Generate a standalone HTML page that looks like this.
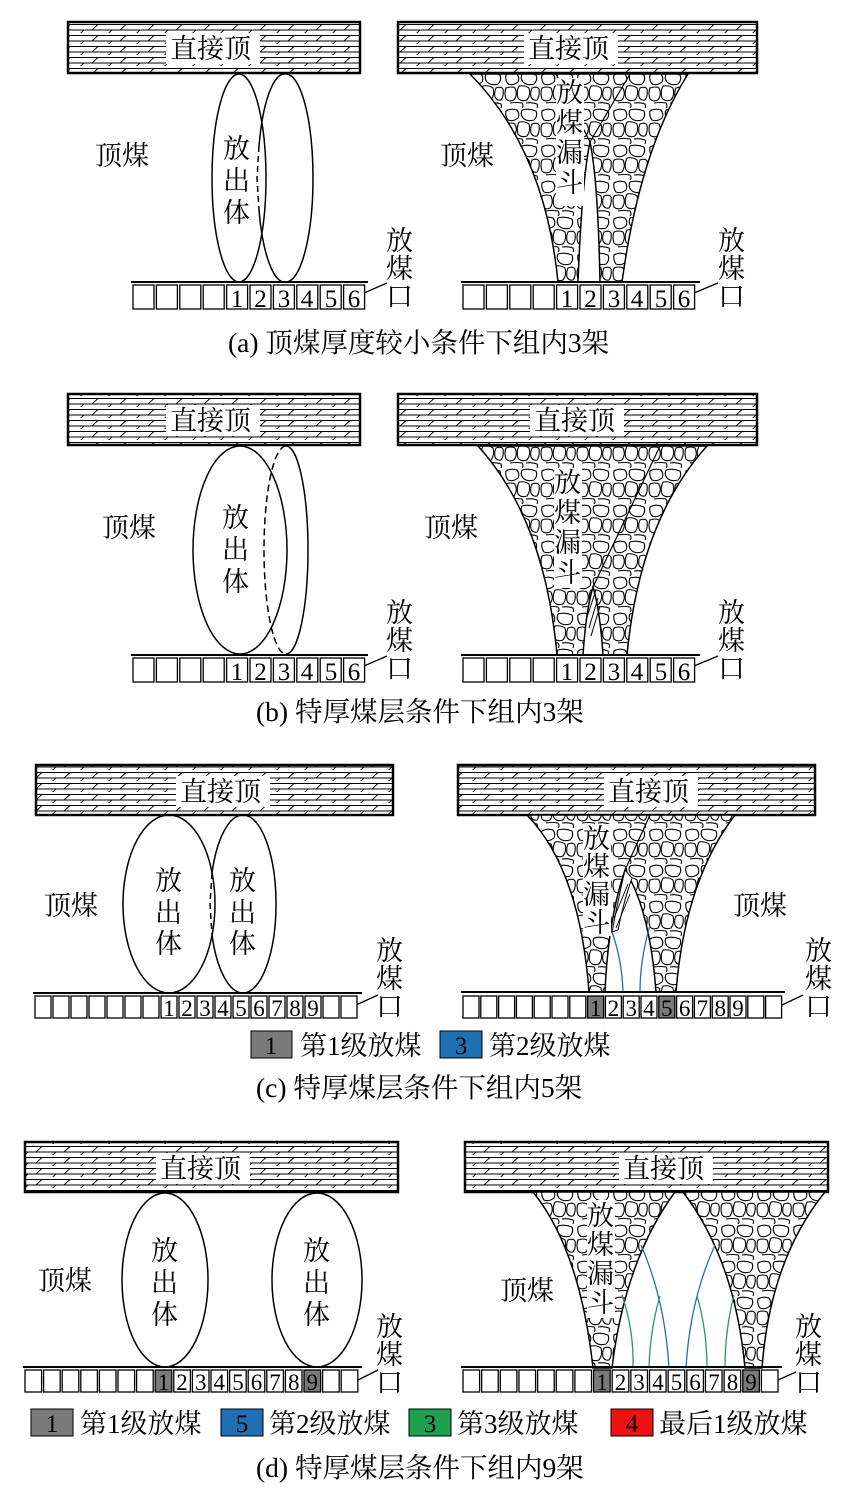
<!DOCTYPE html>
<html><head><meta charset="utf-8"><style>
html,body{margin:0;padding:0;background:#fff;}
svg{display:block;}
text{font-family:"Liberation Serif","Noto Serif CJK SC",serif;fill:#000;}
.l{font-size:27px;}
.c{font-size:27.5px;}
.n{font-size:25px;text-anchor:middle;}
.m{font-size:23px;text-anchor:middle;}
.g{font-size:27px;}
</style></head><body>
<svg width="864" height="1507" viewBox="0 0 864 1507" xmlns="http://www.w3.org/2000/svg">
<defs>
<pattern id="h" width="56" height="11" patternUnits="userSpaceOnUse">
<rect width="56" height="11" fill="#fff"/>
<path d="M0 2.5H56M0 8H56" stroke="#000" stroke-width="1"/>
<path d="M8 8L14 2.5M36 8L42 2.5M22 13.5L28 8M50 13.5L56 8" stroke="#000" stroke-width="0.9"/>
</pattern>
<pattern id="r" width="36" height="36" patternUnits="userSpaceOnUse">
<rect width="36" height="36" fill="#fff"/>
<g fill="#fff" stroke="#000" stroke-width="1.1" stroke-linejoin="round">
<path d="M2 3Q7 0 13 2Q16 6 14 10Q9 14 4 12Q1 8 2 3Z"/>
<path d="M18 2Q25 0 32 3Q34 8 30 12Q23 14 19 10Q16 6 18 2Z"/>
<path d="M2 16Q7 14 11 16Q14 22 10 28Q5 30 2 27Q0 21 2 16Z"/>
<path d="M15 14Q21 13 25 16Q27 23 23 28Q17 30 14 26Q12 20 15 14Z"/>
<path d="M28 16Q33 14 35 17Q36 24 33 28Q29 29 27 25Q26 20 28 16Z"/>
<path d="M6 31Q12 30 18 31Q20 34 18 36M22 31Q28 30 33 32Q34 34 33 36"/>
</g>
</pattern>
</defs>

<!-- ===== (a) ===== -->
<rect x="68" y="22" width="292" height="51" fill="url(#h)" stroke="#000" stroke-width="2.5"/>
<rect x="166" y="33" width="94" height="31" fill="#fff"/>
<text class="l" x="170" y="58">直接顶</text>
<ellipse cx="239" cy="178" rx="27" ry="104" fill="none" stroke="#000" stroke-width="1.5"/>
<path d="M286 74 A27 104 0 0 1 286 282 A27 104 0 0 1 259 210" fill="none" stroke="#000" stroke-width="1.5"/>
<path d="M259 146 A27 104 0 0 1 286 74" fill="none" stroke="#000" stroke-width="1.5"/>
<path d="M259 146 L257 178 L259 210" fill="none" stroke="#000" stroke-width="1.5" stroke-dasharray="6,4"/>
<text class="l" x="95" y="165">顶煤</text>
<text class="l" x="223" y="158">放</text><text class="l" x="223" y="190">出</text><text class="l" x="223" y="222">体</text>
<text class="l" x="386" y="250">放</text><text class="l" x="386" y="278">煤</text><text class="l" x="386" y="306">口</text>
<line x1="364" y1="293" x2="387" y2="283" stroke="#000" stroke-width="1.3"/>
<line x1="131" y1="282" x2="368" y2="282" stroke="#000" stroke-width="2"/>
<g fill="#fff" stroke="#000" stroke-width="1.3">
<rect x="133" y="285" width="21" height="24"/><rect x="156.4" y="285" width="21" height="24"/><rect x="179.8" y="285" width="21" height="24"/><rect x="203.2" y="285" width="21" height="24"/><rect x="226.6" y="285" width="21" height="24"/><rect x="250" y="285" width="21" height="24"/><rect x="273.4" y="285" width="21" height="24"/><rect x="296.8" y="285" width="21" height="24"/><rect x="320.2" y="285" width="21" height="24"/><rect x="343.6" y="285" width="21" height="24"/>
</g>
<text class="n" x="237" y="307">1</text><text class="n" x="260.5" y="307">2</text><text class="n" x="284" y="307">3</text><text class="n" x="307" y="307">4</text><text class="n" x="331" y="307">5</text><text class="n" x="354" y="307">6</text>

<rect x="398" y="22" width="359" height="51" fill="url(#h)" stroke="#000" stroke-width="2.5"/>
<path d="M470 74 L688 74 Q640 150 622 282 L600 282 Q598 180 590 142 Q582 180 578 282 L558 282 Q545 150 470 74Z" fill="url(#r)" stroke="#000" stroke-width="1.5"/>
<path d="M590 142 L630 74 M590 142 L556 74" stroke="#000" stroke-width="1.2" fill="none"/>
<rect x="524" y="33" width="94" height="31" fill="#fff"/>
<text class="l" x="528" y="58">直接顶</text>
<rect x="556" y="78" width="28" height="128" fill="#fff"/>
<text class="l" x="556" y="102">放</text><text class="l" x="556" y="132">煤</text><text class="l" x="556" y="162">漏</text><text class="l" x="556" y="192">斗</text>
<text class="l" x="440" y="165">顶煤</text>
<text class="l" x="718" y="250">放</text><text class="l" x="718" y="278">煤</text><text class="l" x="718" y="306">口</text>
<line x1="694" y1="293" x2="718" y2="283" stroke="#000" stroke-width="1.3"/>
<line x1="461" y1="282" x2="700" y2="282" stroke="#000" stroke-width="2"/>
<g fill="#fff" stroke="#000" stroke-width="1.3">
<rect x="463" y="285" width="21" height="24"/><rect x="486.4" y="285" width="21" height="24"/><rect x="509.8" y="285" width="21" height="24"/><rect x="533.2" y="285" width="21" height="24"/><rect x="556.6" y="285" width="21" height="24"/><rect x="580" y="285" width="21" height="24"/><rect x="603.4" y="285" width="21" height="24"/><rect x="626.8" y="285" width="21" height="24"/><rect x="650.2" y="285" width="21" height="24"/><rect x="673.6" y="285" width="21" height="24"/>
</g>
<text class="n" x="567" y="307">1</text><text class="n" x="590.5" y="307">2</text><text class="n" x="614" y="307">3</text><text class="n" x="637" y="307">4</text><text class="n" x="661" y="307">5</text><text class="n" x="684" y="307">6</text>
<text class="c" x="228" y="352">(a)  顶煤厚度较小条件下组内3架</text>

<!-- ===== (b) ===== -->
<rect x="68" y="394" width="292" height="51" fill="url(#h)" stroke="#000" stroke-width="2.5"/>
<rect x="166" y="405" width="94" height="31" fill="#fff"/>
<text class="l" x="170" y="430">直接顶</text>
<ellipse cx="240" cy="550" rx="47" ry="104" fill="none" stroke="#000" stroke-width="1.5"/>
<path d="M286 446 A22 104 0 0 1 286 654" fill="none" stroke="#000" stroke-width="1.5"/>
<path d="M286 446 A22 104 0 0 0 264 550 A22 104 0 0 0 286 654" fill="none" stroke="#000" stroke-width="1.5" stroke-dasharray="7,4"/>
<text class="l" x="102" y="537">顶煤</text>
<text class="l" x="222" y="527">放</text><text class="l" x="222" y="559">出</text><text class="l" x="222" y="591">体</text>
<text class="l" x="386" y="622">放</text><text class="l" x="386" y="650">煤</text><text class="l" x="386" y="678">口</text>
<line x1="364" y1="666" x2="387" y2="656" stroke="#000" stroke-width="1.3"/>
<line x1="131" y1="655" x2="368" y2="655" stroke="#000" stroke-width="2"/>
<g fill="#fff" stroke="#000" stroke-width="1.3">
<rect x="133" y="658" width="21" height="24"/><rect x="156.4" y="658" width="21" height="24"/><rect x="179.8" y="658" width="21" height="24"/><rect x="203.2" y="658" width="21" height="24"/><rect x="226.6" y="658" width="21" height="24"/><rect x="250" y="658" width="21" height="24"/><rect x="273.4" y="658" width="21" height="24"/><rect x="296.8" y="658" width="21" height="24"/><rect x="320.2" y="658" width="21" height="24"/><rect x="343.6" y="658" width="21" height="24"/>
</g>
<text class="n" x="237" y="680">1</text><text class="n" x="260.5" y="680">2</text><text class="n" x="284" y="680">3</text><text class="n" x="307" y="680">4</text><text class="n" x="331" y="680">5</text><text class="n" x="354" y="680">6</text>

<rect x="398" y="394" width="359" height="51" fill="url(#h)" stroke="#000" stroke-width="2.5"/>
<path d="M478 446 L707 446 Q640 520 627 655 L603 655 Q600 610 593 587 Q586 610 583 655 L557 655 Q545 520 478 446Z" fill="url(#r)" stroke="#000" stroke-width="1.5"/>
<path d="M593 587 L660 446" stroke="#000" stroke-width="1.2"/>
<path d="M586 620 L596 590 M589 628 L598 598 M591 636 L600 606" stroke="#000" stroke-width="1"/>
<rect x="530" y="405" width="94" height="31" fill="#fff"/>
<text class="l" x="534" y="430">直接顶</text>
<rect x="554" y="468" width="28" height="120" fill="#fff"/>
<text class="l" x="554" y="492">放</text><text class="l" x="554" y="522">煤</text><text class="l" x="554" y="552">漏</text><text class="l" x="554" y="582">斗</text>
<text class="l" x="424" y="537">顶煤</text>
<text class="l" x="718" y="622">放</text><text class="l" x="718" y="650">煤</text><text class="l" x="718" y="678">口</text>
<line x1="694" y1="666" x2="718" y2="656" stroke="#000" stroke-width="1.3"/>
<line x1="461" y1="655" x2="700" y2="655" stroke="#000" stroke-width="2"/>
<g fill="#fff" stroke="#000" stroke-width="1.3">
<rect x="463" y="658" width="21" height="24"/><rect x="486.4" y="658" width="21" height="24"/><rect x="509.8" y="658" width="21" height="24"/><rect x="533.2" y="658" width="21" height="24"/><rect x="556.6" y="658" width="21" height="24"/><rect x="580" y="658" width="21" height="24"/><rect x="603.4" y="658" width="21" height="24"/><rect x="626.8" y="658" width="21" height="24"/><rect x="650.2" y="658" width="21" height="24"/><rect x="673.6" y="658" width="21" height="24"/>
</g>
<text class="n" x="567" y="680">1</text><text class="n" x="590.5" y="680">2</text><text class="n" x="614" y="680">3</text><text class="n" x="637" y="680">4</text><text class="n" x="661" y="680">5</text><text class="n" x="684" y="680">6</text>
<text class="c" x="256" y="721">(b)  特厚煤层条件下组内3架</text>

<!-- ===== (c) ===== -->
<rect x="36" y="765" width="357" height="50" fill="url(#h)" stroke="#000" stroke-width="2.5"/>
<rect x="176" y="776" width="94" height="31" fill="#fff"/>
<text class="l" x="180" y="801">直接顶</text>
<ellipse cx="169" cy="904" rx="46" ry="89" fill="none" stroke="#000" stroke-width="1.5"/>
<path d="M243 815 A33 89 0 0 1 243 993 A33 89 0 0 1 212 935" fill="none" stroke="#000" stroke-width="1.5"/>
<path d="M212 873 A33 89 0 0 1 243 815" fill="none" stroke="#000" stroke-width="1.5"/>
<path d="M212 873 L210 904 L212 935" fill="none" stroke="#000" stroke-width="1.5" stroke-dasharray="6,4"/>
<text class="l" x="44" y="915">顶煤</text>
<text class="l" x="155" y="890">放</text><text class="l" x="155" y="922">出</text><text class="l" x="155" y="953">体</text>
<text class="l" x="229" y="890">放</text><text class="l" x="229" y="922">出</text><text class="l" x="229" y="953">体</text>
<text class="l" x="376" y="960">放</text><text class="l" x="376" y="988">煤</text><text class="l" x="376" y="1016">口</text>
<line x1="356" y1="1005" x2="378" y2="995" stroke="#000" stroke-width="1.3"/>
<line x1="33" y1="993" x2="362" y2="993" stroke="#000" stroke-width="2"/>
<g fill="#fff" stroke="#000" stroke-width="1.3">
<rect x="35" y="996" width="16" height="22"/><rect x="53" y="996" width="16" height="22"/><rect x="71" y="996" width="16" height="22"/><rect x="89" y="996" width="16" height="22"/><rect x="107" y="996" width="16" height="22"/><rect x="125" y="996" width="16" height="22"/><rect x="143" y="996" width="16" height="22"/><rect x="161" y="996" width="16" height="22"/><rect x="179" y="996" width="16" height="22"/><rect x="197" y="996" width="16" height="22"/><rect x="215" y="996" width="16" height="22"/><rect x="233" y="996" width="16" height="22"/><rect x="251" y="996" width="16" height="22"/><rect x="269" y="996" width="16" height="22"/><rect x="287" y="996" width="16" height="22"/><rect x="305" y="996" width="16" height="22"/><rect x="323" y="996" width="16" height="22"/><rect x="341" y="996" width="16" height="22"/>
</g>
<text class="m" x="169" y="1016">1</text><text class="m" x="187" y="1016">2</text><text class="m" x="205" y="1016">3</text><text class="m" x="223" y="1016">4</text><text class="m" x="241" y="1016">5</text><text class="m" x="259" y="1016">6</text><text class="m" x="277" y="1016">7</text><text class="m" x="295" y="1016">8</text><text class="m" x="313" y="1016">9</text>

<rect x="458" y="765" width="357" height="50" fill="url(#h)" stroke="#000" stroke-width="2.5"/>
<path d="M527 815 L735 815 Q685 880 676 992 L656 992 Q650 910 625 870 Q608 920 605 992 L589 992 Q580 870 527 815Z" fill="url(#r)" stroke="#000" stroke-width="1.5"/>
<path d="M625 870 L650 815" stroke="#000" stroke-width="1.2"/>
<path d="M625 870 Q618 900 612 932 L618 930 Q624 900 632 878Z" fill="#fff" stroke="#000" stroke-width="1"/>
<path d="M614 918 L628 884 M616 928 L630 894" stroke="#000" stroke-width="0.9"/>
<path d="M612 932 Q622 960 623 992" fill="none" stroke="#1f6fb5" stroke-width="1.3"/>
<path d="M650 925 Q640 960 640 992" fill="none" stroke="#1f6fb5" stroke-width="1.3"/>
<rect x="604" y="776" width="94" height="31" fill="#fff"/>
<text class="l" x="608" y="801">直接顶</text>
<rect x="583" y="824" width="28" height="112" fill="#fff"/>
<text class="l" x="583" y="848">放</text><text class="l" x="583" y="876">煤</text><text class="l" x="583" y="904">漏</text><text class="l" x="583" y="932">斗</text>
<text class="l" x="733" y="915">顶煤</text>
<text class="l" x="805" y="960">放</text><text class="l" x="805" y="988">煤</text><text class="l" x="805" y="1016">口</text>
<line x1="782" y1="1005" x2="803" y2="995" stroke="#000" stroke-width="1.3"/>
<line x1="461" y1="992" x2="785" y2="992" stroke="#000" stroke-width="2"/>
<g fill="#fff" stroke="#000" stroke-width="1.3">
<rect x="463" y="996" width="16" height="22"/><rect x="480.8" y="996" width="16" height="22"/><rect x="498.6" y="996" width="16" height="22"/><rect x="516.4" y="996" width="16" height="22"/><rect x="534.2" y="996" width="16" height="22"/><rect x="552" y="996" width="16" height="22"/><rect x="569.8" y="996" width="16" height="22"/><rect x="587.6" y="996" width="16" height="22" fill="#7a7a7a"/><rect x="605.4" y="996" width="16" height="22"/><rect x="623.2" y="996" width="16" height="22"/><rect x="641" y="996" width="16" height="22"/><rect x="658.8" y="996" width="16" height="22" fill="#7a7a7a"/><rect x="676.6" y="996" width="16" height="22"/><rect x="694.4" y="996" width="16" height="22"/><rect x="712.2" y="996" width="16" height="22"/><rect x="730" y="996" width="16" height="22"/><rect x="747.8" y="996" width="16" height="22"/><rect x="765.6" y="996" width="16" height="22"/>
</g>
<text class="m" x="595.6" y="1016">1</text><text class="m" x="613.4" y="1016">2</text><text class="m" x="631.2" y="1016">3</text><text class="m" x="649" y="1016">4</text><text class="m" x="666.8" y="1016">5</text><text class="m" x="684.6" y="1016">6</text><text class="m" x="702.4" y="1016">7</text><text class="m" x="720.2" y="1016">8</text><text class="m" x="738" y="1016">9</text>
<rect x="251" y="1031" width="41" height="27" fill="#7a7a7a" stroke="#000" stroke-width="1"/>
<text class="n" x="271" y="1054">1</text>
<text class="g" x="300" y="1055">第1级放煤</text>
<rect x="440" y="1031" width="42" height="27" fill="#1f6fb5" stroke="#000" stroke-width="1"/>
<text class="n" x="461" y="1054">3</text>
<text class="g" x="489" y="1055">第2级放煤</text>
<text class="c" x="256" y="1097">(c)  特厚煤层条件下组内5架</text>

<!-- ===== (d) ===== -->
<rect x="25" y="1142" width="373" height="50" fill="url(#h)" stroke="#000" stroke-width="2.5"/>
<rect x="156" y="1153" width="94" height="31" fill="#fff"/>
<text class="l" x="160" y="1178">直接顶</text>
<ellipse cx="165" cy="1280" rx="43" ry="87" fill="none" stroke="#000" stroke-width="1.5"/>
<ellipse cx="317" cy="1280" rx="45" ry="87" fill="none" stroke="#000" stroke-width="1.5"/>
<text class="l" x="38" y="1290">顶煤</text>
<text class="l" x="151" y="1260">放</text><text class="l" x="151" y="1292">出</text><text class="l" x="151" y="1324">体</text>
<text class="l" x="303" y="1260">放</text><text class="l" x="303" y="1292">出</text><text class="l" x="303" y="1324">体</text>
<text class="l" x="376" y="1336">放</text><text class="l" x="376" y="1364">煤</text><text class="l" x="376" y="1392">口</text>
<line x1="358" y1="1380" x2="378" y2="1370" stroke="#000" stroke-width="1.3"/>
<line x1="23" y1="1367" x2="362" y2="1367" stroke="#000" stroke-width="2"/>
<g fill="#fff" stroke="#000" stroke-width="1.3">
<rect x="25" y="1370" width="16.6" height="22"/><rect x="43.6" y="1370" width="16.6" height="22"/><rect x="62.2" y="1370" width="16.6" height="22"/><rect x="80.8" y="1370" width="16.6" height="22"/><rect x="99.4" y="1370" width="16.6" height="22"/><rect x="118" y="1370" width="16.6" height="22"/><rect x="136.6" y="1370" width="16.6" height="22"/><rect x="155.2" y="1370" width="16.6" height="22" fill="#7a7a7a"/><rect x="173.8" y="1370" width="16.6" height="22"/><rect x="192.4" y="1370" width="16.6" height="22"/><rect x="211" y="1370" width="16.6" height="22"/><rect x="229.6" y="1370" width="16.6" height="22"/><rect x="248.2" y="1370" width="16.6" height="22"/><rect x="266.8" y="1370" width="16.6" height="22"/><rect x="285.4" y="1370" width="16.6" height="22"/><rect x="304" y="1370" width="16.6" height="22" fill="#7a7a7a"/><rect x="322.6" y="1370" width="16.6" height="22"/><rect x="341.2" y="1370" width="16.6" height="22"/>
</g>
<text class="m" x="163.5" y="1390">1</text><text class="m" x="182" y="1390">2</text><text class="m" x="200.7" y="1390">3</text><text class="m" x="219.3" y="1390">4</text><text class="m" x="238" y="1390">5</text><text class="m" x="256.5" y="1390">6</text><text class="m" x="275" y="1390">7</text><text class="m" x="293.7" y="1390">8</text><text class="m" x="312.3" y="1390">9</text>

<rect x="465" y="1142" width="363" height="50" fill="url(#h)" stroke="#000" stroke-width="2.5"/>
<path d="M533 1192 L675 1192 Q625 1260 612 1368 L593 1368 Q580 1250 533 1192Z" fill="url(#r)" stroke="#000" stroke-width="1.5"/>
<path d="M683 1192 L825 1192 Q770 1260 762 1368 L745 1368 Q735 1260 683 1192Z" fill="url(#r)" stroke="#000" stroke-width="1.5"/>
<g fill="none" stroke-width="1.3">
<path d="M641 1245 Q665 1300 669 1368" stroke="#1f6fb5"/>
<path d="M715 1245 Q690 1300 686 1368" stroke="#1f6fb5"/>
<path d="M622 1295 Q634 1330 633 1368" stroke="#1fa050"/>
<path d="M660 1296 Q650 1330 649 1368" stroke="#1fa050"/>
<path d="M697 1296 Q707 1330 707 1368" stroke="#1fa050"/>
<path d="M734 1295 Q725 1330 725 1368" stroke="#1fa050"/>
</g>
<rect x="619" y="1153" width="94" height="31" fill="#fff"/>
<text class="l" x="623" y="1178">直接顶</text>
<rect x="587" y="1200" width="28" height="118" fill="#fff"/>
<text class="l" x="587" y="1225">放</text><text class="l" x="587" y="1254">煤</text><text class="l" x="587" y="1283">漏</text><text class="l" x="587" y="1312">斗</text>
<text class="l" x="500" y="1300">顶煤</text>
<text class="l" x="795" y="1336">放</text><text class="l" x="795" y="1364">煤</text><text class="l" x="795" y="1392">口</text>
<line x1="778" y1="1380" x2="796" y2="1372" stroke="#000" stroke-width="1.3"/>
<line x1="461" y1="1367" x2="782" y2="1367" stroke="#000" stroke-width="2"/>
<g fill="#fff" stroke="#000" stroke-width="1.3">
<rect x="463" y="1370" width="16.6" height="22"/><rect x="481.65" y="1370" width="16.6" height="22"/><rect x="500.3" y="1370" width="16.6" height="22"/><rect x="518.95" y="1370" width="16.6" height="22"/><rect x="537.6" y="1370" width="16.6" height="22"/><rect x="556.25" y="1370" width="16.6" height="22"/><rect x="574.9" y="1370" width="16.6" height="22"/><rect x="593.55" y="1370" width="16.6" height="22" fill="#7a7a7a"/><rect x="612.2" y="1370" width="16.6" height="22"/><rect x="630.85" y="1370" width="16.6" height="22"/><rect x="649.5" y="1370" width="16.6" height="22"/><rect x="668.15" y="1370" width="16.6" height="22"/><rect x="686.8" y="1370" width="16.6" height="22"/><rect x="705.45" y="1370" width="16.6" height="22"/><rect x="724.1" y="1370" width="16.6" height="22"/><rect x="742.75" y="1370" width="16.6" height="22" fill="#7a7a7a"/><rect x="761.4" y="1370" width="16.6" height="22"/>
</g>
<text class="m" x="602" y="1390">1</text><text class="m" x="620.5" y="1390">2</text><text class="m" x="639" y="1390">3</text><text class="m" x="658" y="1390">4</text><text class="m" x="676.5" y="1390">5</text><text class="m" x="695" y="1390">6</text><text class="m" x="714" y="1390">7</text><text class="m" x="732.5" y="1390">8</text><text class="m" x="751" y="1390">9</text>

<rect x="31" y="1409" width="42" height="27" fill="#7a7a7a" stroke="#000" stroke-width="1"/>
<text class="n" x="52" y="1432">1</text>
<text class="g" x="80" y="1433">第1级放煤</text>
<rect x="221" y="1409" width="42" height="27" fill="#1f6fb5" stroke="#000" stroke-width="1"/>
<text class="n" x="242" y="1432">5</text>
<text class="g" x="269" y="1433">第2级放煤</text>
<rect x="409" y="1409" width="42" height="27" fill="#1fa050" stroke="#000" stroke-width="1"/>
<text class="n" x="430" y="1432">3</text>
<text class="g" x="457" y="1433">第3级放煤</text>
<rect x="611" y="1409" width="42" height="27" fill="#ee1111" stroke="#000" stroke-width="1"/>
<text class="n" x="632" y="1432">4</text>
<text class="g" x="659" y="1433">最后1级放煤</text>
<text class="c" x="256" y="1477">(d)  特厚煤层条件下组内9架</text>
</svg>
</body></html>
